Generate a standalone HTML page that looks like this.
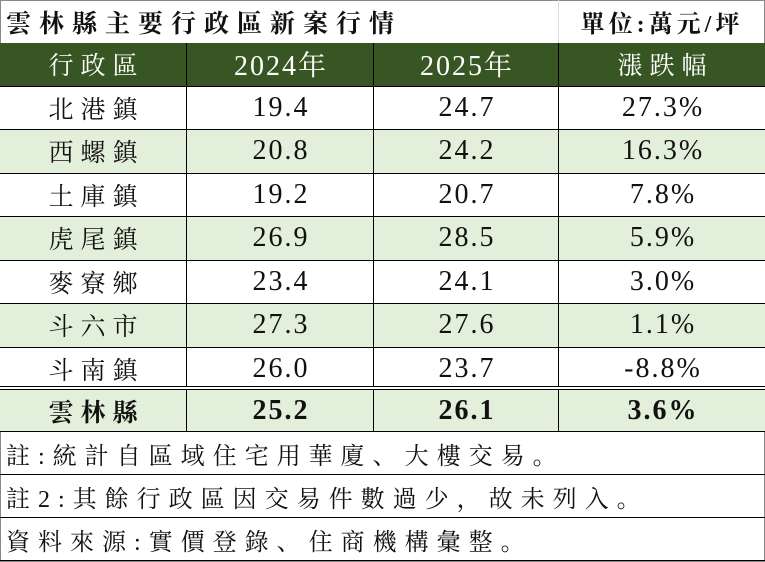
<!DOCTYPE html>
<html><head><meta charset="utf-8"><style>
body{margin:0;width:765px;height:562px;background:#fff;overflow:hidden;font-family:"Liberation Serif","Noto Serif CJK SC","Noto Serif CJK TC",serif;}
.c{position:absolute;box-sizing:border-box;display:flex;align-items:center;justify-content:center;font-size:25px;color:#111;}
.l{justify-content:flex-start;padding-left:6px;letter-spacing:8px}
.n{font-size:28px;letter-spacing:2px;padding-left:2px}
</style></head><body>
<div style="position:absolute;left:0;top:0;width:765px;height:562px;border:1px solid #888;box-sizing:border-box"></div>
<div class="c l" style="left:0;top:0;width:558px;height:43px;font-weight:bold;font-size:25px;letter-spacing:8px">雲林縣主要行政區新案行情</div>
<div class="c" style="left:558px;top:0;width:207px;height:43px;font-weight:bold;font-size:24px;border-left:1px solid #ddd;letter-spacing:4px">單位:萬元/坪</div>
<div id="t"></div>
<script>
var rows=[["行政區","2024年","2025年","漲跌幅"],["北港鎮","19.4","24.7","27.3%"],["西螺鎮","20.8","24.2","16.3%"],["土庫鎮","19.2","20.7","7.8%"],["虎尾鎮","26.9","28.5","5.9%"],["麥寮鄉","23.4","24.1","3.0%"],["斗六市","27.3","27.6","1.1%"],["斗南鎮","26.0","23.7","-8.8%"],["雲林縣","25.2","26.1","3.6%"]];
var xs=[0,186,373,558,765];var h="";
for(var r=0;r<rows.length;r++){var y=43+r*43.5;if(r==8)y=390;
var bg=r==0?"#375623":(r%2==0?"#e2efda":"#fff");var col=r==0?"#fff":"#111";
for(var c=0;c<4;c++){var cls="c"+((c>0&&!(r==0&&c==3))?" n":"");h+='<div class="'+cls+'" style="left:'+xs[c]+'px;top:'+y+'px;width:'+(xs[c+1]-xs[c])+'px;height:'+(r==8?42:43.5)+'px;background:'+bg+';color:'+col+';border-left:'+(c?1:0)+'px solid #000;border-bottom:1px solid #000;'+(r==8?'font-weight:bold;':'')+((c==0||(r==0&&c==3))?'letter-spacing:7px;padding-left:7px;':'')+'">'+rows[r][c]+'</div>';}}
h+='<div style="position:absolute;left:0;top:386px;width:765px;height:4px;border-top:1px solid #000;border-bottom:1px solid #000;box-sizing:border-box;background:#fff"></div>';
var notes=["註:統計自區域住宅用華廈、大樓交易。","註2:其餘行政區因交易件數過少，故未列入。","資料來源:實價登錄、住商機構彙整。"];
for(var i=0;i<3;i++){h+='<div class="c l" style="left:0;top:'+(432+i*43)+'px;width:765px;height:43px;border-bottom:1px solid #000;font-size:24px">'+notes[i]+'</div>';}
document.getElementById("t").innerHTML=h;
</script>
</body></html>
